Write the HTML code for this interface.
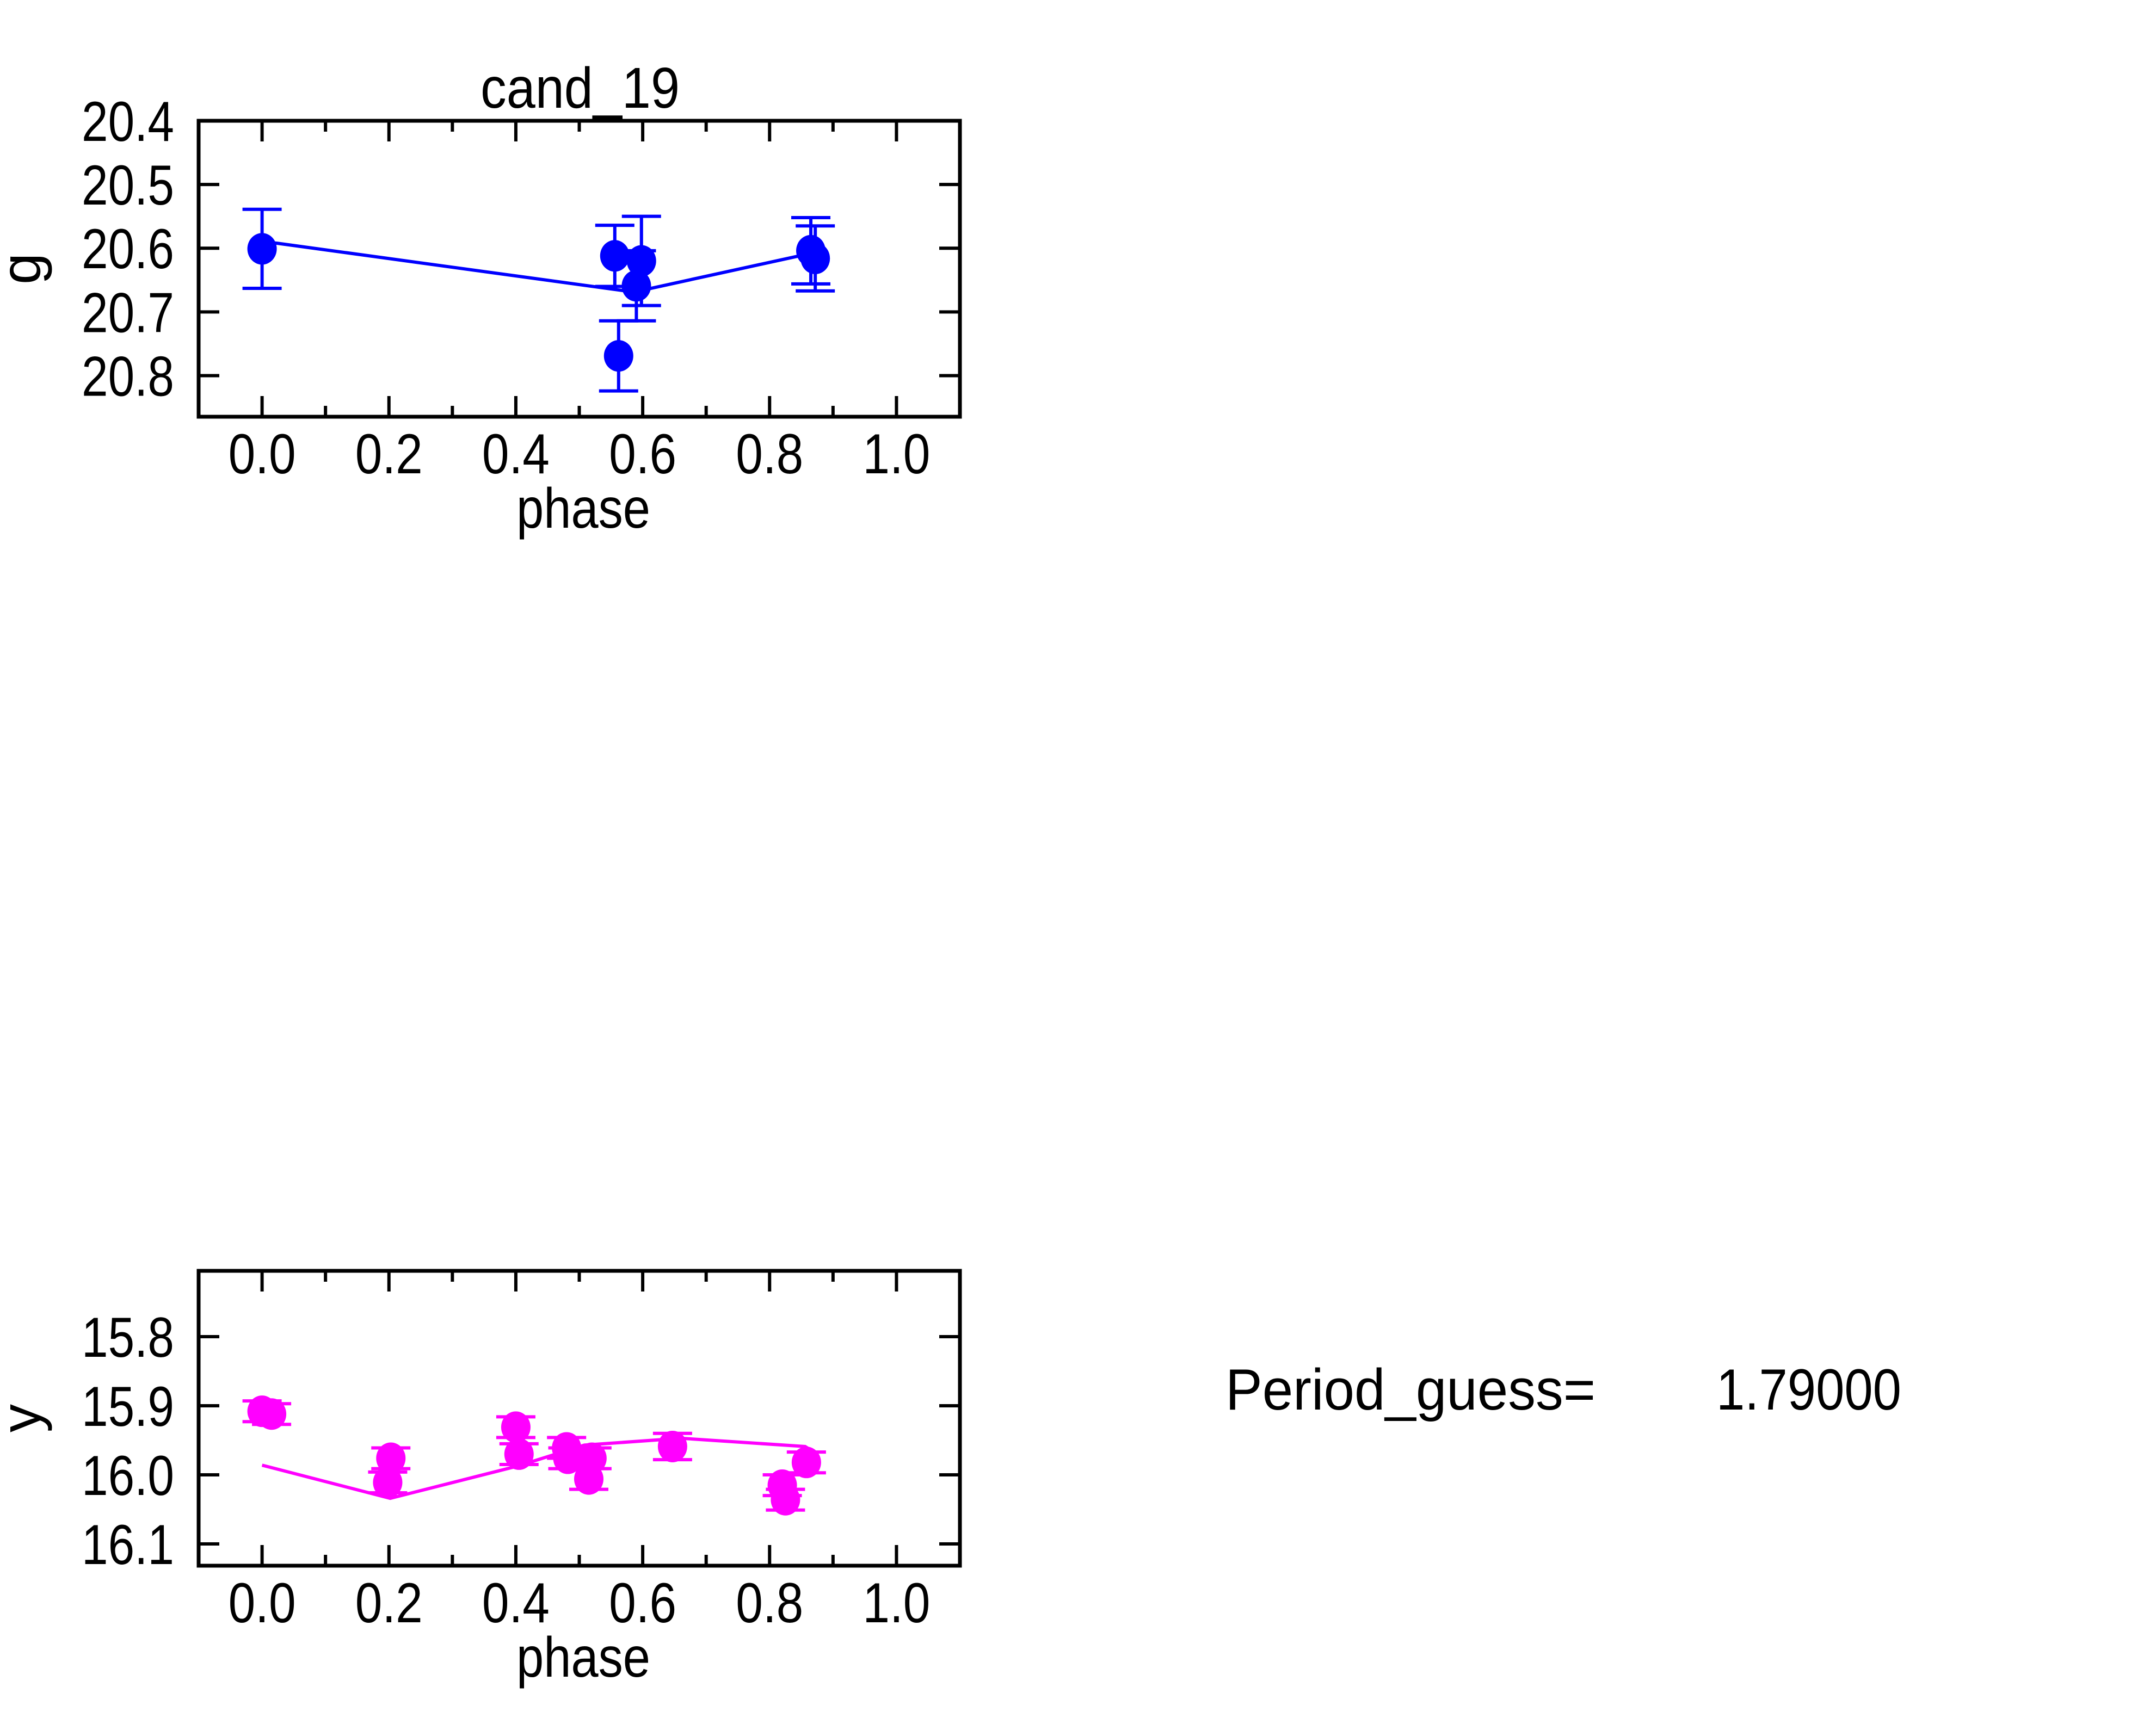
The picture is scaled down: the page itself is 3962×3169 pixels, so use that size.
<!DOCTYPE html>
<html><head><meta charset="utf-8"><style>
html,body{margin:0;padding:0;background:#fff;}
svg{display:block;font-family:"Liberation Sans",sans-serif;}
</style></head><body>
<svg id="chart" width="3962" height="3169" viewBox="0 0 3962 3169" xmlns="http://www.w3.org/2000/svg">
<rect x="0" y="0" width="3962" height="3169" fill="#fff"/>
<text x="1066" y="198" font-size="106" text-anchor="middle" textLength="366" lengthAdjust="spacingAndGlyphs">cand_19</text>
<text x="2252" y="2591" font-size="107" textLength="680" lengthAdjust="spacingAndGlyphs">Period_guess=</text>
<text x="3154" y="2591" font-size="107" textLength="340" lengthAdjust="spacingAndGlyphs">1.79000</text>
</svg>
<script>
// ---- data: g band ----
const gPhase = [0.0, 0.556, 0.562, 0.590, 0.598, 0.865, 0.872];
const gMag   = [20.601, 20.612, 20.769, 20.659, 20.620, 20.604, 20.616];
const gErr   = [0.062, 0.048, 0.055, 0.055, 0.070, 0.052, 0.051];
const gFitPhase = [0.0, 0.58, 0.59, 0.87];
const gFitMag   = [20.589, 20.668, 20.668, 20.607];
// ---- data: y band ----
const yPhase = [0.0, 0.015, 0.203, 0.198, 0.400, 0.405, 0.480, 0.482, 0.520, 0.515, 0.647, 0.820, 0.825, 0.858];
const yMag   = [15.908, 15.912, 15.976, 16.011, 15.931, 15.970, 15.961, 15.976, 15.976, 16.006, 15.959, 16.015, 16.036, 15.982];
const yErr   = [0.015, 0.015, 0.015, 0.015, 0.015, 0.015, 0.015, 0.015, 0.015, 0.015, 0.019, 0.015, 0.015, 0.015];
const yFitPhase = [0.0, 0.202, 0.404, 0.508, 0.66, 0.856, 0.863];
const yFitMag   = [15.986, 16.034, 15.987, 15.957, 15.947, 15.959, 15.963];
// ---- ticks ----
const xTicks = [0.0, 0.2, 0.4, 0.6, 0.8, 1.0];
const xTickLabels = ["0.0","0.2","0.4","0.6","0.8","1.0"];
const gTicks = [20.4, 20.5, 20.6, 20.7, 20.8];
const gTickLabels = ["20.4","20.5","20.6","20.7","20.8"];
const yTicks = [15.8, 15.9, 16.0, 16.1];
const yTickLabels = ["15.8","15.9","16.0","16.1"];

const NS = "http://www.w3.org/2000/svg";
const svg = document.getElementById("chart");
function mk(tag, attrs, parent){
  const e = document.createElementNS(NS, tag);
  for (const k in attrs) e.setAttribute(k, attrs[k]);
  (parent||svg).appendChild(e);
  return e;
}

function panel(cfg){
  const L=365, R=1764, T=cfg.top, B=cfg.bottom;
  const X = p => L + (p - (-0.1)) / 1.2 * (R - L);
  const Y = m => T + (m - cfg.ymin) / (cfg.ymax - cfg.ymin) * (B - T);
  const g = mk("g", {});
  
  
  for (let i = -1; i <= 11; i++) {
    const v = i / 10;
    const x = X(v);
    const major = (i % 2 === 0) && i >= 0;
    const len = major ? 38 : 20;
    const t1 = mk("line", {x1:x, y1:T, x2:x, y2:T+len, stroke:"#000","stroke-width":6}, g);
    
    
    const t2 = mk("line", {x1:x, y1:B, x2:x, y2:B-len, stroke:"#000","stroke-width":6}, g);
    
    
  }
  xTicks.forEach((v, i) => {
    const t = mk("text", {x:X(v), y:B+104, "font-size":104, "text-anchor":"middle", textLength:124, lengthAdjust:"spacingAndGlyphs"}, g);
    t.textContent = xTickLabels[i];
    
    
  });
  cfg.ticks.forEach((v, i) => {
    const y = Y(v);
    const a = mk("line", {x1:L, y1:y, x2:L+38, y2:y, stroke:"#000","stroke-width":6}, g);
    
    
    const b = mk("line", {x1:R, y1:y, x2:R-38, y2:y, stroke:"#000","stroke-width":6}, g);
    
    
    const t = mk("text", {x:320, y:y+37, "font-size":104, "text-anchor":"end", textLength:170, lengthAdjust:"spacingAndGlyphs"}, g);
    t.textContent = cfg.tickLabels[i];
    
    
  });
  const pts = cfg.fitP.map((p, i) => X(p) + "," + Y(cfg.fitM[i])).join(" ");
  const pl = mk("polyline", {points:pts, fill:"none", stroke:cfg.color, "stroke-width":6}, g);
  
  
  cfg.p.forEach((p, i) => {
    const x = X(p), y = Y(cfg.m[i]);
    const y1 = Y(cfg.m[i] - cfg.e[i]), y2 = Y(cfg.m[i] + cfg.e[i]);
    const eb = mk("path", {d:`M${x},${y1}V${y2}M${x-36},${y1}H${x+36}M${x-36},${y2}H${x+36}`, stroke:cfg.color, "stroke-width":6, fill:"none"}, g);
    
    
    const c = mk("ellipse", {cx:x, cy:y, rx:27, ry:29, fill:cfg.color}, g);
    
    
  });
  const fr = mk("rect", {x:L, y:T, width:R-L, height:B-T, fill:"none", stroke:"#000", "stroke-width":7}, g);
  
  
  const xl = mk("text", {x:1072, y:B+204, "font-size":104, "text-anchor":"middle", textLength:246, lengthAdjust:"spacingAndGlyphs"}, g);
  xl.textContent = "phase";
  
  
  const cy = (T + B) / 2;
  const yl = mk("text", {x:74, y:cy, "font-size":104, "text-anchor":"middle", transform:`rotate(-90 74 ${cy})`}, g);
  yl.textContent = cfg.label;
  
  
}

panel({name:"g-band", top:222, bottom:766, ymin:20.4, ymax:20.8645, ticks:gTicks, tickLabels:gTickLabels,
  p:gPhase, m:gMag, e:gErr, fitP:gFitPhase, fitM:gFitMag, color:"#0000ff", label:"g"});
panel({name:"y-band", top:2336, bottom:2878, ymin:15.7047, ymax:16.1315, ticks:yTicks, tickLabels:yTickLabels,
  p:yPhase, m:yMag, e:yErr, fitP:yFitPhase, fitM:yFitMag, color:"#ff00ff", label:"y"});
</script>
</body></html>
